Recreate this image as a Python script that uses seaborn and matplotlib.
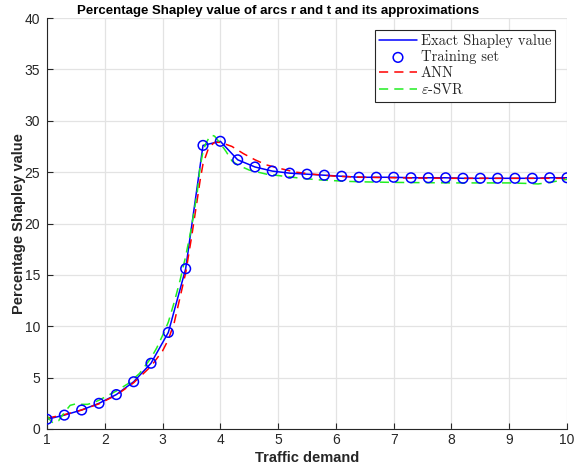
import numpy as np
import pandas as pd
import matplotlib
matplotlib.use("Agg")
import matplotlib.pyplot as plt
import seaborn as sns

# Training set / exact Shapley values
train_x = [1.0, 1.3, 1.6, 1.9, 2.2, 2.5, 2.8, 3.1, 3.4, 3.7, 4.0, 4.3, 4.6, 4.9, 5.2, 5.5,
           5.8, 6.1, 6.4, 6.7, 7.0, 7.3, 7.6, 7.9, 8.2, 8.5, 8.8, 9.1, 9.4, 9.7, 10.0]
train_y = [0.95, 1.35, 1.85, 2.5, 3.35, 4.6, 6.4, 9.4, 15.6, 27.6, 28.0, 26.2, 25.5, 25.1, 24.9, 24.8,
           24.7, 24.6, 24.5, 24.5, 24.5, 24.45, 24.45, 24.45, 24.4, 24.4, 24.4, 24.4, 24.4, 24.45, 24.45]

# ANN approximation
ann_x = [1.0, 1.3, 1.6, 1.9, 2.2, 2.5, 2.8, 3.0, 3.1, 3.2, 3.4, 3.5, 3.6, 3.65, 3.7, 3.8, 3.9, 4.0,
         4.1, 4.2, 4.4, 4.6, 4.8, 5.0, 5.3, 5.6, 6.0, 6.5, 7.0, 8.0, 9.0, 10.0]
ann_y = [1.05, 1.4, 1.85, 2.45, 3.3, 4.5, 6.1, 7.6, 8.7, 10.3, 15.2, 18.6, 22.3, 24.2, 25.8, 27.4, 27.9, 27.9,
         27.7, 27.5, 26.8, 26.2, 25.7, 25.4, 25.0, 24.8, 24.6, 24.5, 24.45, 24.4, 24.4, 24.4]

# epsilon-SVR approximation
svr_x = [1.0, 1.05, 1.1, 1.2, 1.3, 1.4, 1.5, 1.6, 1.7, 1.8, 1.9, 2.0, 2.2, 2.4, 2.6, 2.8, 2.9, 3.0,
         3.1, 3.2, 3.3, 3.4, 3.5, 3.6, 3.65, 3.7, 3.75, 3.8, 3.85, 3.9, 4.0, 4.1, 4.2, 4.3, 4.5, 4.8,
         5.1, 5.4, 5.7, 6.2, 6.5, 7.0, 8.0, 9.0, 9.3, 9.5, 9.7, 10.0]
svr_y = [1.3, 0.9, 0.6, 0.8, 1.6, 2.3, 2.45, 2.4, 2.4, 2.55, 2.8, 3.1, 3.7, 4.4, 5.4, 6.9, 7.9, 9.1,
         10.4, 12.3, 14.4, 16.8, 19.6, 23.0, 25.5, 27.0, 27.8, 28.3, 28.6, 28.5, 27.8, 27.0, 26.1, 25.7, 25.2, 24.8,
         24.6, 24.4, 24.25, 24.1, 24.05, 24.0, 23.95, 23.95, 23.9, 23.85, 24.0, 24.3]

x_ticks = [1, 2, 3, 4, 5, 6, 7, 8, 9, 10]
y_ticks = [0, 5, 10, 15, 20, 25, 30, 35, 40]

sns.set_theme(style="whitegrid")
plt.rcParams['font.family'] = ['Liberation Sans', 'DejaVu Sans']
plt.rcParams['mathtext.fontset'] = 'cm'

fig = plt.figure(figsize=(5.76, 4.71), dpi=100)
ax = fig.add_axes([47/576, 1 - 429/471, 520/576, 411/471])

sns.lineplot(x=train_x, y=train_y, ax=ax, color='#0000ff', lw=1.1, estimator=None,
             label='Exact Shapley value')
sns.scatterplot(x=train_x, y=train_y, ax=ax, marker='o', s=48, facecolor='none',
                edgecolor='#0000ff', linewidth=1.1, label='Training set', zorder=5)
sns.lineplot(x=ann_x, y=ann_y, ax=ax, color='#ff0000', lw=1.1, estimator=None,
             linestyle=(0, (6, 4)), label='ANN')
sns.lineplot(x=svr_x, y=svr_y, ax=ax, color='#22ee22', lw=1.1, estimator=None,
             linestyle=(0, (6, 4)), label=r'$\varepsilon$-SVR')

ax.set_xlim(1, 10)
ax.set_ylim(0, 40)
ax.set_xticks(x_ticks)
ax.set_yticks(y_ticks)
ax.grid(True, color='#e3e3e3', lw=0.9)
ax.set_facecolor('white')
for s in ['top', 'right']:
    ax.spines[s].set_visible(False)
for s in ['left', 'bottom']:
    ax.spines[s].set_visible(True)
    ax.spines[s].set_color('#262626')
    ax.spines[s].set_linewidth(0.8)
ax.tick_params(direction='in', length=4, width=0.8, colors='#262626', labelsize=10,
               left=True, bottom=True, pad=3)
ax.tick_params(axis='y', pad=5)

ax.set_xlabel('Traffic demand', fontsize=10.5, fontweight='bold', color='#262626', labelpad=3)
ax.set_ylabel('Percentage Shapley value', fontsize=10.5, fontweight='bold', color='#262626', labelpad=-1)
ax.set_title('Percentage Shapley value of arcs r and t and its approximations',
             fontsize=9.5, fontweight='bold', color='black', pad=3, x=0.444)

leg = ax.legend(loc='upper right', prop={'family': 'cmr10', 'size': 10.5}, frameon=True,
                fancybox=False, framealpha=1, edgecolor='#262626', borderaxespad=0.8,
                handlelength=2.6, handletextpad=0.25, labelspacing=0.15, borderpad=0.3)
leg.get_frame().set_linewidth(0.8)

fig.savefig('out.png', dpi=100)
